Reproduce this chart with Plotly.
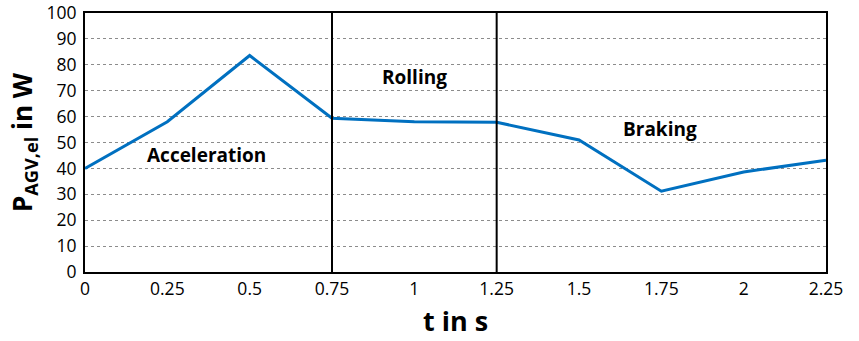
import plotly.graph_objects as go

# Electrical power of the AGV over one drive cycle
t_s = [0, 0.25, 0.5, 0.75, 1.0, 1.25, 1.5, 1.75, 2.0, 2.25]
power_w = [40, 58, 83.6, 59.4, 58, 57.8, 51, 31.2, 38.6, 43.2]

phase_bounds = [0.75, 1.25]
phase_labels = ["Acceleration", "Rolling", "Braking"]
phase_label_x = [0.37, 1.0, 1.745]
phase_label_y = [45.3, 75.4, 55.3]

x_ticks = [0, 0.25, 0.5, 0.75, 1, 1.25, 1.5, 1.75, 2, 2.25]
x_tick_text = ["0", "0.25", "0.5", "0.75", "1", "1.25", "1.5", "1.75", "2", "2.25"]
y_ticks = list(range(0, 101, 10))

FONT = "Open Sans"

fig = go.Figure()
fig.add_trace(go.Scatter(
    x=t_s, y=power_w, mode="lines",
    line=dict(color="#0070C0", width=3),
    showlegend=False, hoverinfo="skip",
))

for xb in phase_bounds:
    fig.add_shape(type="line", xref="x", yref="y", x0=xb, x1=xb, y0=0, y1=100,
                  line=dict(color="black", width=2))

for txt, xa, ya in zip(phase_labels, phase_label_x, phase_label_y):
    fig.add_annotation(x=xa, y=ya, text=f"<b>{txt}</b>", showarrow=False,
                       font=dict(family=FONT, size=19, color="black"),
                       xanchor="center", yanchor="middle")

fig.update_layout(
    width=859, height=341,
    margin=dict(l=85, r=33, t=13, b=69),
    paper_bgcolor="white", plot_bgcolor="white",
    font=dict(family=FONT, color="black"),
)
fig.update_xaxes(
    range=[0, 2.25], tickvals=x_ticks, ticktext=x_tick_text,
    tickfont=dict(size=17.5, family=FONT), ticks="", showgrid=False,
    ticklabelstandoff=0, automargin=False,
    showline=True, linecolor="black", linewidth=2, mirror=True,
    zeroline=False,
    title=dict(text="<b>t in s</b>", font=dict(size=27, family=FONT), standoff=13),
)
fig.update_yaxes(
    range=[0, 100], tickvals=y_ticks,
    tickfont=dict(size=17.5, family=FONT), ticks="",
    ticklabelstandoff=3, automargin=False,
    showgrid=True, gridcolor="#8c8c8c", gridwidth=1, griddash="dot",
    showline=True, linecolor="black", linewidth=2, mirror=True,
    zeroline=False,
    title=dict(text="<b>P<sub>AGV,el</sub> in W</b>", font=dict(size=26, family=FONT), standoff=6),
)

fig.write_html("out.html")
